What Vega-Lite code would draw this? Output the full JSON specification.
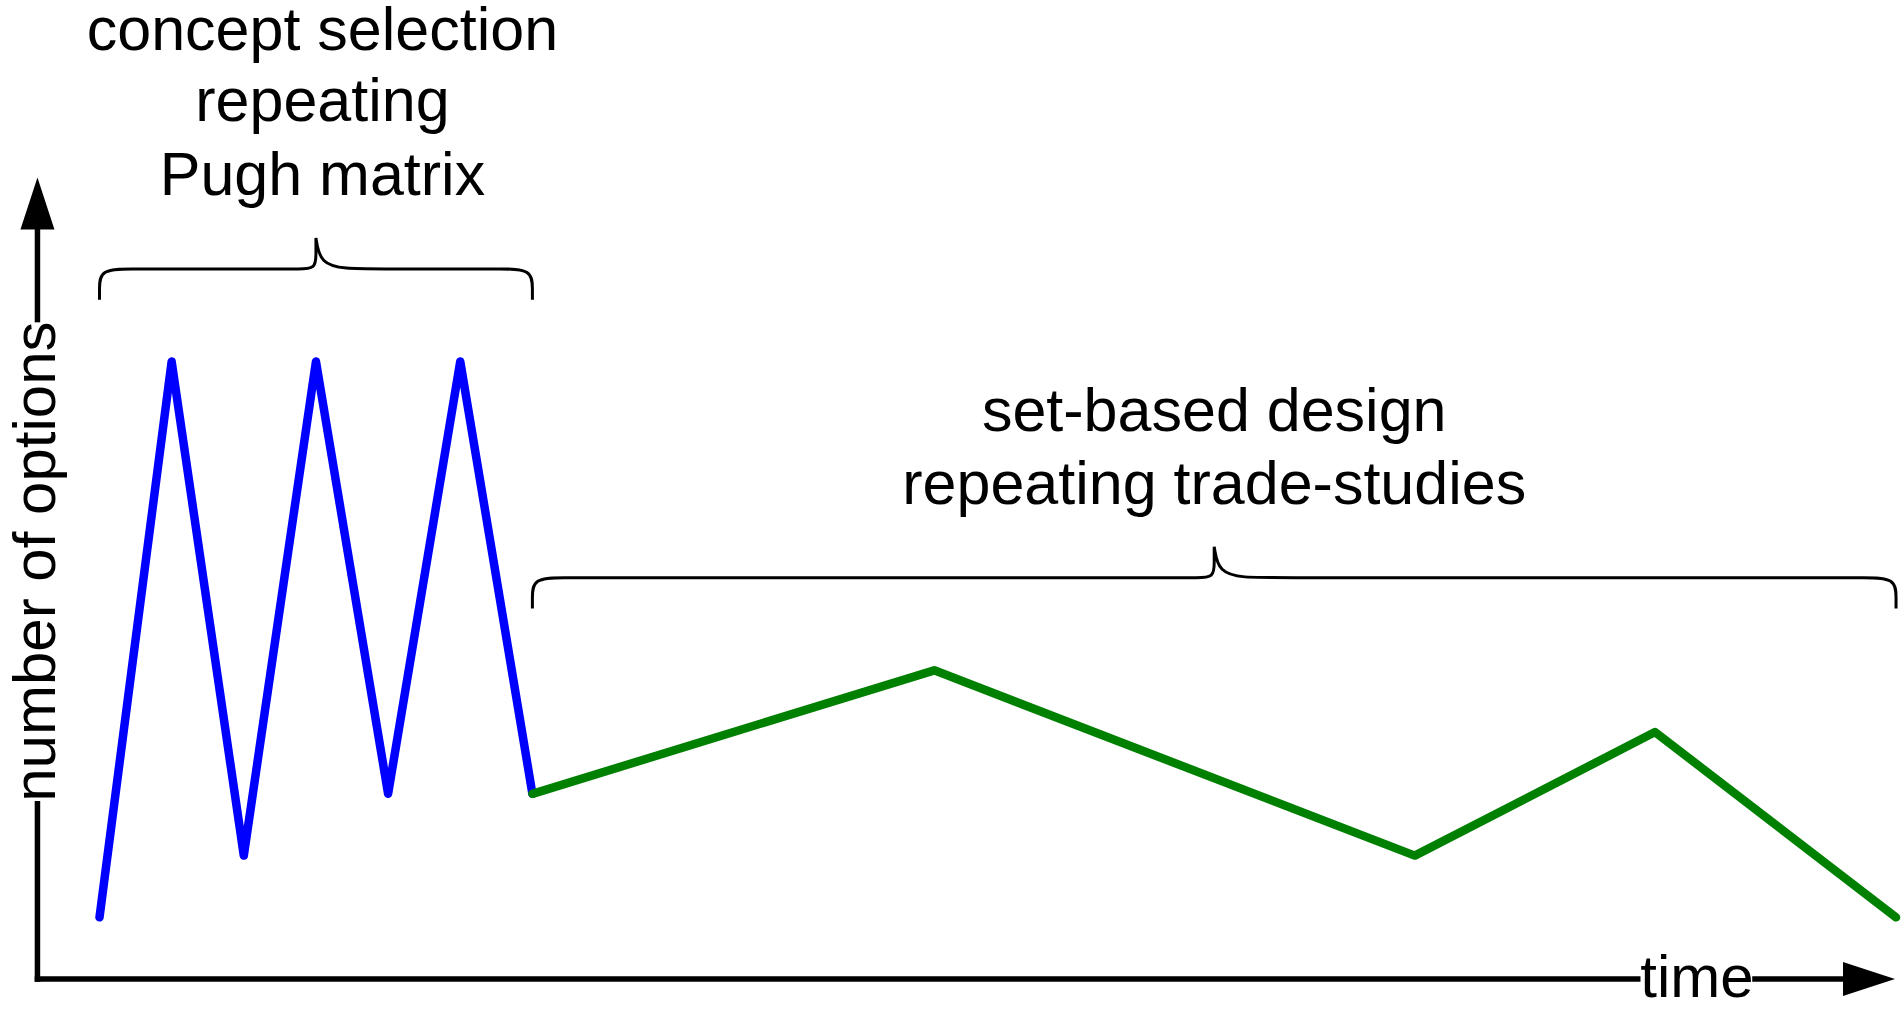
{
  "$schema": "https://vega.github.io/schema/vega-lite/v6.json",
  "width": 1904,
  "height": 1009,
  "autosize": {"type": "fit", "contains": "padding"},
  "padding": 0,
  "background": "white",
  "config": {"view": {"stroke": null}},
  "datasets": {
    "concept": [
      {"t": 0, "n": 1}, {"t": 1, "n": 10}, {"t": 2, "n": 2}, {"t": 3, "n": 10},
      {"t": 4, "n": 3}, {"t": 5, "n": 10}, {"t": 6, "n": 3}
    ],
    "setbased": [
      {"t": 6, "n": 3}, {"t": 11.57, "n": 5}, {"t": 18.23, "n": 2}, {"t": 21.56, "n": 4}, {"t": 24.9, "n": 1}
    ],
    "braces": [
      {"b": 1, "i": 1, "t": 0, "n": 11.0},
      {"b": 1, "i": 2, "t": 0, "n": 11.15},
      {"b": 1, "i": 3, "t": 0, "n": 11.5},
      {"b": 1, "i": 4, "t": 0.45, "n": 11.5},
      {"b": 1, "i": 5, "t": 0.9, "n": 11.5},
      {"b": 1, "i": 6, "t": 2.5, "n": 11.5},
      {"b": 1, "i": 7, "t": 2.75, "n": 11.5},
      {"b": 1, "i": 8, "t": 3, "n": 11.5},
      {"b": 1, "i": 9, "t": 3, "n": 11.75},
      {"b": 1, "i": 10, "t": 3, "n": 12},
      {"b": 1, "i": 11, "t": 3, "n": 12},
      {"b": 1, "i": 12, "t": 3, "n": 12},
      {"b": 1, "i": 13, "t": 3.06, "n": 11.58},
      {"b": 1, "i": 14, "t": 3.42, "n": 11.5},
      {"b": 1, "i": 15, "t": 3.8, "n": 11.5},
      {"b": 1, "i": 16, "t": 5.1, "n": 11.5},
      {"b": 1, "i": 17, "t": 5.55, "n": 11.5},
      {"b": 1, "i": 18, "t": 6, "n": 11.5},
      {"b": 1, "i": 19, "t": 6, "n": 11.15},
      {"b": 1, "i": 20, "t": 6, "n": 11.0},
      {"b": 2, "i": 1, "t": 6, "n": 6.0},
      {"b": 2, "i": 2, "t": 6, "n": 6.15},
      {"b": 2, "i": 3, "t": 6, "n": 6.5},
      {"b": 2, "i": 4, "t": 6.45, "n": 6.5},
      {"b": 2, "i": 5, "t": 6.9, "n": 6.5},
      {"b": 2, "i": 6, "t": 14.95, "n": 6.5},
      {"b": 2, "i": 7, "t": 15.2, "n": 6.5},
      {"b": 2, "i": 8, "t": 15.45, "n": 6.5},
      {"b": 2, "i": 9, "t": 15.45, "n": 6.75},
      {"b": 2, "i": 10, "t": 15.45, "n": 7},
      {"b": 2, "i": 11, "t": 15.45, "n": 7},
      {"b": 2, "i": 12, "t": 15.45, "n": 7},
      {"b": 2, "i": 13, "t": 15.51, "n": 6.58},
      {"b": 2, "i": 14, "t": 15.87, "n": 6.5},
      {"b": 2, "i": 15, "t": 16.25, "n": 6.5},
      {"b": 2, "i": 16, "t": 24.0, "n": 6.5},
      {"b": 2, "i": 17, "t": 24.45, "n": 6.5},
      {"b": 2, "i": 18, "t": 24.9, "n": 6.5},
      {"b": 2, "i": 19, "t": 24.9, "n": 6.15},
      {"b": 2, "i": 20, "t": 24.9, "n": 6.0}
    ],
    "axes": [
      {"t": -0.86, "t2": -0.86, "n": 0, "n2": 2.84},
      {"t": -0.86, "t2": -0.86, "n": 10.68, "n2": 12.3},
      {"t": -0.86, "t2": 21.32, "n": 0, "n2": 0},
      {"t": 22.945, "t2": 24.3, "n": 0, "n2": 0}
    ],
    "labels": [
      {"label": "concept selection", "t": 3.09, "n": 15.05},
      {"label": "repeating", "t": 3.09, "n": 13.9},
      {"label": "Pugh matrix", "t": 3.09, "n": 12.7},
      {"label": "set-based design", "t": 15.45, "n": 8.87},
      {"label": "repeating trade-studies", "t": 15.45, "n": 7.69}
    ]
  },
  "layer": [
    {
      "data": {"name": "concept"},
      "mark": {"type": "line", "color": "#0000ff", "strokeWidth": 8.5, "strokeCap": "round", "strokeJoin": "round"},
      "encoding": {
        "x": {"field": "t", "type": "quantitative", "scale": {"domain": [-1.3791, 25.0104], "nice": false, "zero": false}, "axis": null},
        "y": {"field": "n", "type": "quantitative", "scale": {"domain": [-0.4355, 15.8387], "nice": false, "zero": false}, "axis": null}
      }
    },
    {
      "data": {"name": "setbased"},
      "mark": {"type": "line", "color": "#008000", "strokeWidth": 8.5, "strokeCap": "round", "strokeJoin": "round"},
      "encoding": {
        "x": {"field": "t", "type": "quantitative", "scale": {"domain": [-1.3791, 25.0104], "nice": false, "zero": false}, "axis": null},
        "y": {"field": "n", "type": "quantitative", "scale": {"domain": [-0.4355, 15.8387], "nice": false, "zero": false}, "axis": null}
      }
    },
    {
      "data": {"name": "braces"},
      "mark": {"type": "line", "color": "black", "strokeWidth": 3, "interpolate": "basis"},
      "encoding": {
        "x": {"field": "t", "type": "quantitative", "scale": {"domain": [-1.3791, 25.0104], "nice": false, "zero": false}, "axis": null},
        "y": {"field": "n", "type": "quantitative", "scale": {"domain": [-0.4355, 15.8387], "nice": false, "zero": false}, "axis": null},
        "detail": {"field": "b", "type": "nominal"},
        "order": {"field": "i", "type": "quantitative"}
      }
    },
    {
      "data": {"name": "axes"},
      "mark": {"type": "rule", "color": "black", "strokeWidth": 5.5, "strokeCap": "square"},
      "encoding": {
        "x": {"field": "t", "type": "quantitative", "scale": {"domain": [-1.3791, 25.0104], "nice": false, "zero": false}, "axis": null},
        "x2": {"field": "t2"},
        "y": {"field": "n", "type": "quantitative", "scale": {"domain": [-0.4355, 15.8387], "nice": false, "zero": false}, "axis": null},
        "y2": {"field": "n2"}
      }
    },
    {
      "data": {"values": [{"t": -0.86, "n": 12.56}]},
      "mark": {"type": "point", "shape": "M0,-1L0.654,1L-0.654,1Z", "size": 2704, "filled": true, "color": "black", "opacity": 1, "strokeWidth": 0},
      "encoding": {
        "x": {"field": "t", "type": "quantitative", "scale": {"domain": [-1.3791, 25.0104], "nice": false, "zero": false}, "axis": null},
        "y": {"field": "n", "type": "quantitative", "scale": {"domain": [-0.4355, 15.8387], "nice": false, "zero": false}, "axis": null}
      }
    },
    {
      "data": {"values": [{"t": 24.525, "n": 0}]},
      "mark": {"type": "point", "shape": "M1,0L-1,0.654L-1,-0.654Z", "size": 2704, "filled": true, "color": "black", "opacity": 1, "strokeWidth": 0},
      "encoding": {
        "x": {"field": "t", "type": "quantitative", "scale": {"domain": [-1.3791, 25.0104], "nice": false, "zero": false}, "axis": null},
        "y": {"field": "n", "type": "quantitative", "scale": {"domain": [-0.4355, 15.8387], "nice": false, "zero": false}, "axis": null}
      }
    },
    {
      "data": {"name": "labels"},
      "mark": {"type": "text", "font": "Liberation Sans", "fontSize": 61, "align": "center", "baseline": "alphabetic", "color": "black"},
      "encoding": {
        "x": {"field": "t", "type": "quantitative", "scale": {"domain": [-1.3791, 25.0104], "nice": false, "zero": false}, "axis": null},
        "y": {"field": "n", "type": "quantitative", "scale": {"domain": [-0.4355, 15.8387], "nice": false, "zero": false}, "axis": null},
        "text": {"field": "label"}
      }
    },
    {
      "data": {"values": [{"label": "number of options", "t": -0.86, "n": 6.76}]},
      "mark": {"type": "text", "font": "Liberation Sans", "fontSize": 60, "align": "center", "baseline": "middle", "angle": 270, "color": "black"},
      "encoding": {
        "x": {"field": "t", "type": "quantitative", "scale": {"domain": [-1.3791, 25.0104], "nice": false, "zero": false}, "axis": null},
        "y": {"field": "n", "type": "quantitative", "scale": {"domain": [-0.4355, 15.8387], "nice": false, "zero": false}, "axis": null},
        "text": {"field": "label"}
      }
    },
    {
      "data": {"values": [{"label": "time", "t": 22.14, "n": 0}]},
      "mark": {"type": "text", "font": "Liberation Sans", "fontSize": 60, "align": "center", "baseline": "middle", "color": "black"},
      "encoding": {
        "x": {"field": "t", "type": "quantitative", "scale": {"domain": [-1.3791, 25.0104], "nice": false, "zero": false}, "axis": null},
        "y": {"field": "n", "type": "quantitative", "scale": {"domain": [-0.4355, 15.8387], "nice": false, "zero": false}, "axis": null},
        "text": {"field": "label"}
      }
    }
  ]
}
